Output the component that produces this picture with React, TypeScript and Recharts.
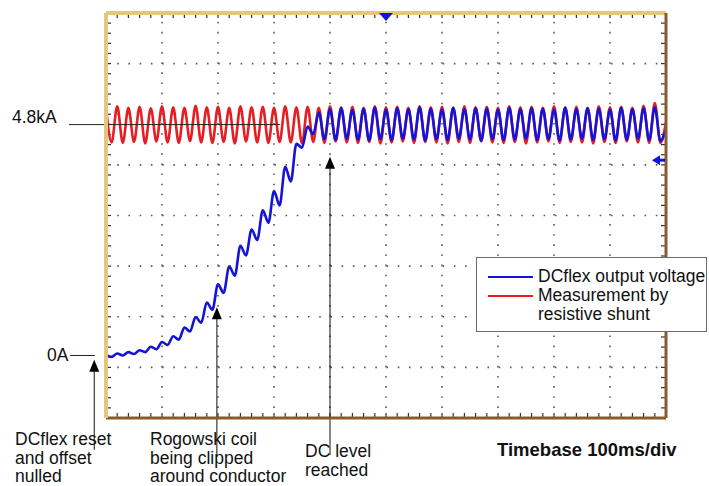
import React from "react";
import {
  LineChart,
  Line,
  XAxis,
  YAxis,
  ReferenceLine,
  ReferenceDot,
  Legend,
} from "recharts";

// scope trace read every 10 ms (half a 50 Hz ripple period)
const STEP_MS = 10;

// red trace, resistive shunt (kA)
const SHUNT_KA = [
  5.16, 4.43, 5.18, 4.42, 5.15, 4.44, 5.17, 4.41, 5.14, 4.45,
  5.18, 4.43, 5.16, 4.42, 5.15, 4.46, 5.19, 4.43, 5.16, 4.42,
  5.17, 4.44, 5.15, 4.41, 5.18, 4.45, 5.16, 4.43, 5.17, 4.42,
  5.15, 4.44, 5.18, 4.43, 5.16, 4.41, 5.17, 4.44, 5.15, 4.42,
  5.18, 4.45, 5.16, 4.43, 5.17, 4.42, 5.15, 4.44, 5.18, 4.41,
  5.16, 4.43, 5.17, 4.45, 5.15, 4.42, 5.18, 4.44, 5.16, 4.43,
  5.17, 4.41, 5.15, 4.44, 5.18, 4.42, 5.16, 4.45, 5.17, 4.43,
  5.15, 4.42, 5.18, 4.44, 5.16, 4.41, 5.17, 4.43, 5.15, 4.45,
  5.18, 4.42, 5.16, 4.44, 5.17, 4.43, 5.15, 4.41, 5.18, 4.44,
  5.16, 4.42, 5.17, 4.45, 5.15, 4.43, 5.19, 4.42, 5.25, 4.42,
  4.85,
];

// blue trace, DCflex output (kA)
const DCFLEX_KA = [
  0.02, -0.03, 0.04, 0.0, 0.07, 0.03, 0.11, 0.07, 0.18, 0.13,
  0.28, 0.22, 0.4, 0.33, 0.58, 0.5, 0.8, 0.68, 1.1, 0.95,
  1.48, 1.3, 1.85, 1.66, 2.28, 2.08, 2.62, 2.4, 3.02, 2.76,
  3.42, 3.12, 3.92, 3.62, 4.4, 4.32, 4.76, 4.6, 5.05, 4.5,
  5.12, 4.48, 5.14, 4.51, 5.1, 4.49, 5.13, 4.47, 5.15, 4.5,
  5.11, 4.48, 5.14, 4.51, 5.12, 4.49, 5.16, 4.47, 5.13, 4.5,
  5.11, 4.48, 5.15, 4.51, 5.12, 4.49, 5.14, 4.47, 5.13, 4.5,
  5.11, 4.48, 5.15, 4.49, 5.12, 4.51, 5.14, 4.48, 5.13, 4.5,
  5.11, 4.47, 5.15, 4.49, 5.12, 4.51, 5.14, 4.48, 5.13, 4.5,
  5.11, 4.47, 5.15, 4.49, 5.12, 4.51, 5.14, 4.48, 5.16, 4.46,
  4.7,
];

const TIME_DIVS = [0, 100, 200, 300, 400, 500, 600, 700, 800, 900, 1000];
const Y_MIN = -1.3;
const Y_MAX = 7.12;
const Y_DIVS = 8;

const BLUE = "#1414d8";
const RED = "#e61e24";
const TAN = "#e3c67f";
const BROWN = "#8a5a2c";
const FONT = "'Liberation Sans', Arial, sans-serif";

// plot box inside the 709x486 chart
const W = 709;
const H = 486;
const M = { top: 13, right: 43, bottom: 68, left: 106 };
const PLOT_L = M.left;
const PLOT_R = W - M.right;
const PLOT_T = M.top;
const PLOT_B = H - M.bottom;

const data = SHUNT_KA.map((v, i) => ({
  t: i * STEP_MS,
  shunt: v,
  dcflex: DCFLEX_KA[i],
}));

const yDiv = (Y_MAX - Y_MIN) / Y_DIVS;
const yGrid = Array.from({ length: Y_DIVS - 1 }, (_, k) => Y_MIN + (k + 1) * yDiv);

const ArrowUp = (props: any) => {
  const { x1, y1, y2 } = props;
  const top = Math.min(y1, y2);
  const bottom = Math.max(y1, y2);
  return (
    <g>
      <line x1={x1} y1={top + 10} x2={x1} y2={bottom} stroke="#111" strokeWidth={1} />
      <polygon points={`${x1},${top} ${x1 - 5},${top + 12} ${x1 + 5},${top + 12}`} fill="#000" />
    </g>
  );
};

const TriggerMark = ({ cx, cy }: any) => (
  <polygon points={`${cx - 7},${cy} ${cx + 7},${cy} ${cx},${cy + 8}`} fill={BLUE} />
);

const LevelMark = ({ cx, cy }: any) => (
  <g fill={BLUE}>
    <polygon points={`${cx - 14},${cy} ${cx - 6},${cy - 5} ${cx - 6},${cy + 5}`} />
    <rect x={cx - 6} y={cy - 1.5} width={5} height={3} />
  </g>
);

// scope minor ticks along the inside of the frame (5 per division),
// sits under the chart so the legend box covers them
const FrameTicks = () => {
  const nx = TIME_DIVS.length - 1;
  const xs = Array.from({ length: nx * 5 + 1 }, (_, k) => PLOT_L + (k * (PLOT_R - PLOT_L)) / (nx * 5));
  const ys = Array.from({ length: Y_DIVS * 5 + 1 }, (_, k) => PLOT_T + (k * (PLOT_B - PLOT_T)) / (Y_DIVS * 5));
  return (
    <svg
      width={W}
      height={H}
      style={{ position: "absolute", left: 0, top: 0, pointerEvents: "none" }}
    >
      <g stroke="#333" strokeWidth={1.2}>
        {xs.map((x, i) => (
          <g key={`x${i}`}>
            <line x1={x} y1={PLOT_T + 1} x2={x} y2={PLOT_T + 5} />
            <line x1={x} y1={PLOT_B - 1} x2={x} y2={PLOT_B - 5} />
          </g>
        ))}
        {ys.map((y, i) => (
          <g key={`y${i}`}>
            <line x1={PLOT_L + 1} y1={y} x2={PLOT_L + 5} y2={y} />
            <line x1={PLOT_R - 1} y1={y} x2={PLOT_R - 5} y2={y} />
          </g>
        ))}
      </g>
    </svg>
  );
};

const LegendBox = ({ payload }: any) => {
  const items = [...(payload || [])].sort((a: any) => (a.dataKey === "dcflex" ? -1 : 1));
  return (
    <div
      style={{
        border: "1px solid #6b6b6b",
        background: "#fff",
        padding: "9px 0 0 11px",
        boxSizing: "border-box",
        width: 231,
        height: 75,
        fontFamily: FONT,
        fontSize: 17.5,
        color: "#111",
      }}
    >
      {items.map((item: any) => (
        <div key={item.dataKey} style={{ display: "flex", alignItems: "flex-start" }}>
          <span
            style={{
              width: 45,
              height: 2,
              background: item.color,
              marginTop: 8.5,
              marginRight: 5,
              flex: "none",
            }}
          />
          <span style={{ width: 168, lineHeight: "19px" }}>{item.value}</span>
        </div>
      ))}
    </div>
  );
};

const note = (top: number, left: number, size: number, bold = false): React.CSSProperties => ({
  position: "absolute",
  top,
  left,
  fontSize: size,
  lineHeight: "18.5px",
  fontWeight: bold ? "bold" : "normal",
  color: "#111",
  whiteSpace: "nowrap",
});

// shared settings for the four frame axes (border line only)
const frame = {
  type: "number" as const,
  tick: false,
  tickLine: false,
  mirror: true,
  allowDataOverflow: true,
};

export default function App() {
  return (
    <div
      style={{
        position: "absolute",
        left: 0,
        top: 0,
        width: W,
        height: H,
        background: "#fff",
        fontFamily: FONT,
      }}
    >
      <FrameTicks />

      <LineChart width={W} height={H} data={data} margin={M}>
        {/* dotted scope graticule */}
        {yGrid.map((v) => (
          <ReferenceLine key={`h${v}`} y={v} stroke="#5a5a5a" strokeWidth={1.6} strokeDasharray="1.6 9.62" />
        ))}
        {TIME_DIVS.slice(1, -1).map((t) => (
          <ReferenceLine key={`v${t}`} x={t} stroke="#5a5a5a" strokeWidth={1.6} strokeDasharray="1.6 8.52" />
        ))}

        <XAxis
          {...frame}
          dataKey="t"
          domain={[0, 1000]}
          height={1}
          axisLine={{ stroke: BROWN, strokeWidth: 3 }}
        />
        <XAxis
          {...frame}
          xAxisId="top"
          orientation="top"
          domain={[0, 1000]}
          height={1}
          axisLine={{ stroke: TAN, strokeWidth: 4 }}
        />
        <YAxis
          {...frame}
          domain={[Y_MIN, Y_MAX]}
          width={1}
          axisLine={{ stroke: TAN, strokeWidth: 4 }}
        />
        <YAxis
          {...frame}
          yAxisId="right"
          orientation="right"
          domain={[Y_MIN, Y_MAX]}
          width={1}
          axisLine={{ stroke: BROWN, strokeWidth: 3 }}
        />

        <Line
          type="monotone"
          dataKey="shunt"
          name="Measurement by resistive shunt"
          stroke={RED}
          strokeWidth={2.6}
          dot={false}
          isAnimationActive={false}
        />
        <Line
          type="monotone"
          dataKey="dcflex"
          name="DCflex output voltage"
          stroke={BLUE}
          strokeWidth={2.6}
          dot={false}
          isAnimationActive={false}
        />

        {/* level leaders */}
        <ReferenceLine
          segment={[{ x: -66, y: 4.8 }, { x: 311, y: 4.8 }]}
          ifOverflow="visible"
          stroke="#222"
          strokeWidth={1}
        />
        <ReferenceLine
          segment={[{ x: -64, y: 0 }, { x: -20, y: 0 }]}
          ifOverflow="visible"
          stroke="#222"
          strokeWidth={1}
        />

        {/* event arrows */}
        <ReferenceLine
          segment={[{ x: -21, y: -0.09 }, { x: -21, y: -1.96 }]}
          ifOverflow="visible"
          shape={ArrowUp}
        />
        <ReferenceLine
          segment={[{ x: 198, y: 1.0 }, { x: 198, y: -2.1 }]}
          ifOverflow="visible"
          shape={ArrowUp}
        />
        <ReferenceLine
          segment={[{ x: 400, y: 4.13 }, { x: 400, y: -2.07 }]}
          ifOverflow="visible"
          shape={ArrowUp}
        />

        <ReferenceDot x={500} y={Y_MAX} r={0} ifOverflow="visible" shape={TriggerMark} />
        <ReferenceDot x={1000} y={4.06} r={0} ifOverflow="visible" shape={LevelMark} />

        <Legend
          layout="horizontal"
          align="center"
          verticalAlign="middle"
          content={LegendBox}
          wrapperStyle={{ position: "absolute", left: 476, top: 257, width: 231, height: 75 }}
        />
      </LineChart>

      <div style={note(108, 12, 17.5)}>4.8kA</div>
      <div style={note(346, 47, 17.5)}>0A</div>

      <div style={note(430, 15, 17.5)}>
        DCflex reset
        <br />
        and offset
        <br />
        nulled
      </div>
      <div style={note(430, 150, 17.5)}>
        Rogowski coil
        <br />
        being clipped
        <br />
        around conductor
      </div>
      <div style={note(442, 305, 17.5)}>
        DC level
        <br />
        reached
      </div>
      <div style={note(441, 497, 18.5, true)}>Timebase 100ms/div</div>
    </div>
  );
}
